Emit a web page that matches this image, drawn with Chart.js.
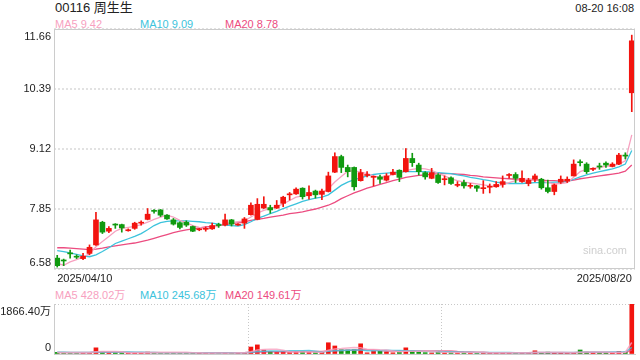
<!DOCTYPE html>
<html>
<head>
<meta charset="utf-8">
<script src="https://cdn.jsdelivr.net/npm/chart.js@4"></script>
<style>
body { margin: 0; background: #fff; width: 640px; height: 360px; overflow: hidden; position: relative;
       font-family: 'Liberation Sans', Arial, 'Noto Sans CJK SC', sans-serif; }
.t { position: absolute; white-space: nowrap; line-height: 14px; height: 14px; }
canvas { position: absolute; left: 0; }
</style>
</head>
<body>
<div class="t" style="left:55px;top:1px;font-size:13px;color:#222">00116 周生生</div>
<div class="t" style="right:6px;top:1px;font-size:11px;color:#222">08-20 16:08</div>
<div class="t" id="lg5" style="left:55px;top:17px;font-size:11px;color:#f7a1c0"></div>
<div class="t" id="lg10" style="left:140px;top:17px;font-size:11px;color:#3cc3dc"></div>
<div class="t" id="lg20" style="left:225px;top:17px;font-size:11px;color:#ec4c80"></div>
<div class="t" id="vl5" style="left:55px;top:288px;font-size:11px;color:#f7a1c0"></div>
<div class="t" id="vl10" style="left:140px;top:288px;font-size:11px;color:#3cc3dc"></div>
<div class="t" id="vl20" style="left:225px;top:288px;font-size:11px;color:#ec4c80"></div>
<canvas id="kline" width="640" height="290" style="top:0"></canvas>
<canvas id="vol" width="640" height="70" style="top:290px"></canvas>
<div class="t" style="left:583px;top:243px;font-size:11px;color:#cfcfcf">sina.com</div>
<script>
const FONT = "'Liberation Sans', Arial, 'Noto Sans CJK SC', sans-serif";
const RED = '#f2140f';
const GREEN = '#109a10';

// trading days
const dates = [
  '2025/04/10','2025/04/11','2025/04/14','2025/04/15','2025/04/16','2025/04/17','2025/04/22','2025/04/23','2025/04/24','2025/04/25','2025/04/28','2025/04/29','2025/04/30',
  '2025/05/02','2025/05/06','2025/05/07','2025/05/08','2025/05/09','2025/05/12','2025/05/13','2025/05/14','2025/05/15','2025/05/16','2025/05/19','2025/05/20','2025/05/21','2025/05/22','2025/05/23','2025/05/26','2025/05/27','2025/05/28','2025/05/29','2025/05/30',
  '2025/06/02','2025/06/03','2025/06/04','2025/06/05','2025/06/06','2025/06/09','2025/06/10','2025/06/11','2025/06/12','2025/06/13','2025/06/16','2025/06/17','2025/06/18','2025/06/19','2025/06/20','2025/06/23','2025/06/24','2025/06/25','2025/06/26','2025/06/27','2025/06/30',
  '2025/07/02','2025/07/03','2025/07/04','2025/07/07','2025/07/08','2025/07/09','2025/07/10','2025/07/11','2025/07/14','2025/07/15','2025/07/16','2025/07/17','2025/07/18','2025/07/21','2025/07/22','2025/07/23','2025/07/24','2025/07/25','2025/07/28','2025/07/29','2025/07/30','2025/07/31',
  '2025/08/01','2025/08/04','2025/08/05','2025/08/06','2025/08/07','2025/08/08','2025/08/11','2025/08/12','2025/08/13','2025/08/14','2025/08/15','2025/08/18','2025/08/19','2025/08/20'
];

const openP = [6.81,6.77,6.92,6.85,6.80,6.91,7.09,7.57,7.38,7.53,7.52,7.39,7.44,7.55,7.63,7.82,7.83,7.72,7.62,7.56,7.57,7.48,7.41,7.42,
  7.43,7.51,7.51,7.62,7.51,7.55,7.73,7.63,7.87,7.88,7.87,7.97,8.15,8.17,8.29,8.13,8.23,8.16,8.22,8.63,8.96,
  8.73,8.73,8.45,8.56,8.52,8.53,8.46,8.58,8.67,8.64,8.92,8.78,8.62,8.50,8.57,8.47,8.51,8.35,8.41,8.33,8.34,8.28,8.31,
  8.32,8.37,8.56,8.58,8.43,8.39,8.48,8.48,8.30,8.22,8.42,8.44,8.55,8.85,8.80,8.69,8.76,8.82,8.75,8.80,8.99,10.31];
const closeP = [6.65,6.75,6.90,6.83,6.85,7.04,7.62,7.36,7.44,7.51,7.45,7.41,7.55,7.56,7.74,7.80,7.72,7.64,7.53,7.46,7.51,7.38,7.42,7.43,
  7.50,7.50,7.62,7.53,7.52,7.64,7.93,7.95,7.95,7.83,7.93,8.10,8.16,8.27,8.11,8.20,8.15,8.23,8.55,8.96,8.73,
  8.64,8.32,8.62,8.57,8.53,8.48,8.55,8.63,8.52,8.92,8.83,8.64,8.53,8.62,8.41,8.48,8.39,8.36,8.34,8.34,8.29,8.29,8.32,
  8.37,8.43,8.57,8.50,8.50,8.46,8.55,8.30,8.22,8.36,8.48,8.48,8.80,8.83,8.64,8.70,8.74,8.78,8.80,8.99,8.97,11.41];
const highP = [6.87,6.79,6.98,6.88,6.91,7.09,7.78,7.59,7.48,7.54,7.53,7.43,7.57,7.60,7.86,7.84,7.84,7.73,7.65,7.58,7.60,7.49,7.44,7.47,
  7.55,7.55,7.74,7.63,7.54,7.67,7.98,8.07,8.11,7.93,8.03,8.12,8.20,8.30,8.30,8.34,8.25,8.27,8.63,9.04,8.99,
  8.78,8.74,8.69,8.64,8.55,8.57,8.60,8.69,8.68,9.13,9.03,8.82,8.64,8.71,8.60,8.55,8.53,8.43,8.46,8.39,8.35,8.45,8.38,
  8.43,8.55,8.60,8.62,8.66,8.50,8.59,8.50,8.46,8.38,8.55,8.53,8.89,8.89,8.83,8.72,8.82,8.85,8.83,9.03,9.04,11.53];
const lowP = [6.62,6.65,6.81,6.80,6.78,6.88,7.08,7.33,7.35,7.44,7.36,7.38,7.42,7.51,7.62,7.76,7.69,7.63,7.51,7.43,7.48,7.37,7.39,7.38,
  7.42,7.46,7.49,7.49,7.50,7.44,7.72,7.62,7.86,7.76,7.86,7.90,8.04,8.16,8.06,8.06,8.08,8.05,8.21,8.62,8.62,
  8.53,8.25,8.44,8.53,8.34,8.39,8.44,8.57,8.43,8.63,8.75,8.57,8.48,8.49,8.39,8.36,8.37,8.32,8.29,8.29,8.22,8.18,8.19,
  8.31,8.31,8.50,8.41,8.41,8.34,8.43,8.27,8.19,8.15,8.39,8.41,8.55,8.76,8.60,8.66,8.69,8.73,8.74,8.79,8.91,9.91];

const ma5 = [6.70,6.66,6.73,6.78,6.83,6.90,7.05,7.16,7.27,7.38,7.44,7.46,7.48,7.52,7.57,7.63,7.68,7.72,7.68,7.61,7.56,7.50,7.46,7.43,
  7.46,7.49,7.54,7.56,7.58,7.60,7.68,7.76,7.82,7.86,7.90,7.96,8.03,8.10,8.13,8.16,8.18,8.19,8.28,8.42,8.54,
  8.65,8.66,8.63,8.60,8.55,8.52,8.53,8.58,8.61,8.66,8.69,8.71,8.70,8.67,8.60,8.55,8.49,8.45,8.42,8.40,8.38,8.36,8.34,
  8.33,8.36,8.41,8.45,8.47,8.48,8.49,8.45,8.41,8.38,8.39,8.41,8.52,8.64,8.69,8.71,8.73,8.75,8.77,8.80,8.87,9.42];
const ma10 = [6.97,6.95,6.92,6.89,6.86,6.84,6.88,6.95,7.03,7.12,7.17,7.22,7.27,7.33,7.41,7.50,7.56,7.59,7.60,7.60,7.60,7.59,7.58,7.56,
  7.55,7.53,7.51,7.50,7.49,7.52,7.58,7.65,7.70,7.75,7.80,7.86,7.91,7.96,8.01,8.05,8.08,8.10,8.15,8.25,8.35,
  8.42,8.47,8.51,8.55,8.58,8.60,8.61,8.62,8.63,8.64,8.64,8.64,8.64,8.63,8.62,8.61,8.60,8.57,8.55,8.52,8.50,8.47,8.45,
  8.42,8.40,8.39,8.39,8.39,8.40,8.41,8.41,8.41,8.42,8.42,8.43,8.48,8.53,8.57,8.61,8.64,8.67,8.70,8.74,8.80,9.09];
const ma20 = [7.03,7.03,7.02,7.01,7.00,6.99,7.00,7.02,7.05,7.07,7.09,7.11,7.13,7.16,7.19,7.23,7.27,7.31,7.35,7.38,7.41,7.43,7.45,7.47,
  7.48,7.50,7.52,7.54,7.56,7.58,7.61,7.63,7.65,7.68,7.70,7.72,7.75,7.77,7.79,7.82,7.85,7.89,7.93,7.99,8.07,
  8.13,8.19,8.24,8.29,8.33,8.37,8.41,8.45,8.48,8.52,8.54,8.56,8.57,8.59,8.60,8.60,8.60,8.59,8.58,8.56,8.55,8.53,8.52,
  8.51,8.50,8.49,8.48,8.48,8.47,8.46,8.46,8.45,8.45,8.44,8.44,8.46,8.49,8.51,8.53,8.55,8.57,8.59,8.61,8.65,8.78];

// volume, 万 shares
const volume = [60,30,50,40,45,60,230,70,40,45,40,35,55,40,70,35,45,40,50,45,
  40,50,35,30,40,30,60,45,30,50,260,340,150,90,60,80,50,70,90,60,
  55,70,420,300,160,150,160,380,45,120,100,80,45,60,230,110,80,50,40,90,
  50,60,45,60,50,55,40,50,45,60,40,45,50,45,120,60,70,50,45,40,
  60,150,70,40,55,45,50,100,70,1866.4];
const volMa5 = [55,50,48,45,45,45,84,89,89,97,85,46,43,43,48,47,49,46,48,43,
  44,45,44,40,39,37,39,41,43,45,89,147,166,178,180,144,86,70,70,70,
  65,69,139,189,201,220,238,234,179,171,155,145,114,81,103,105,105,106,102,74,
  62,58,59,61,54,54,52,51,48,50,49,48,48,48,62,64,69,69,69,53,
  53,69,73,72,75,72,52,58,64,428.02];
const volMa10 = [65,62,60,58,56,55,70,72,73,75,72,70,68,66,57,53,51,50,48,46,
  44,45,45,43,42,40,42,43,42,43,62,93,103,110,112,113,117,120,124,126,
  107,79,99,120,130,140,151,152,124,125,130,139,134,126,122,117,111,98,90,91,
  86,81,78,72,68,60,58,55,55,55,52,51,51,51,55,56,59,59,59,59,
  56,67,71,70,72,70,70,70,71,245.68];
const volMa20 = [55,55,54,54,53,53,62,63,62,62,61,60,60,59,60,59,59,58,58,58,
  57,50,50,50,50,49,50,50,49,49,59,74,79,81,83,86,86,88,91,91,
  92,93,112,124,130,136,142,158,158,161,126,113,108,102,111,112,113,112,111,112,
  112,111,92,80,78,66,62,49,46,46,44,43,43,42,49,49,49,49,49,49,
  50,55,56,55,56,55,55,58,59,149.61];

const priceTicks = [6.58, 7.85, 9.12, 10.39, 11.66];
const volTicks = [0, 1866.4];

const last = a => a[a.length - 1];
document.getElementById('lg5').textContent = 'MA5 ' + last(ma5).toFixed(2);
document.getElementById('lg10').textContent = 'MA10 ' + last(ma10).toFixed(2);
document.getElementById('lg20').textContent = 'MA20 ' + last(ma20).toFixed(2);
document.getElementById('vl5').textContent = 'MA5 ' + last(volMa5).toFixed(2) + '万';
document.getElementById('vl10').textContent = 'MA10 ' + last(volMa10).toFixed(2) + '万';
document.getElementById('vl20').textContent = 'MA20 ' + last(volMa20).toFixed(2) + '万';

const upDown = openP.map((o, i) => closeP[i] >= o ? RED : GREEN);
const wicks = lowP.map((l, i) => [l, highP[i]]);
const bodies = openP.map((o, i) => [Math.min(o, closeP[i]), Math.max(o, closeP[i])]);

Chart.defaults.font.family = FONT;
Chart.defaults.font.size = 11;
Chart.defaults.color = '#222';
Chart.defaults.animation = false;

// frame, y labels (top one hangs below its line, bottom one sits above), volume thirds grid
const yLabels = {
  id: 'yLabels',
  beforeDatasetsDraw(chart, args, opts) {
    if (!opts.thirds) return;
    const { ctx, chartArea: a } = chart;
    ctx.save();
    ctx.strokeStyle = '#c8c8c8';
    ctx.lineWidth = 1;
    ctx.setLineDash([1, 2]);
    [1, 2].forEach(k => {
      const x = Math.round(a.left + (a.right - a.left) * k / 3) + 0.5;
      ctx.beginPath();
      ctx.moveTo(x, a.top);
      ctx.lineTo(x, a.bottom);
      ctx.stroke();
    });
    ctx.restore();
  },
  afterDraw(chart, args, opts) {
    const { ctx, chartArea: a } = chart;
    const s = chart.scales.y;
    ctx.save();
    if (opts.box) {
      ctx.strokeStyle = '#cccccc';
      ctx.lineWidth = 1;
      ctx.strokeRect(a.left + 0.5, a.top + 0.5, a.right - a.left - 1, a.bottom - a.top - 1);
    }
    ctx.font = '11px ' + FONT;
    ctx.fillStyle = '#222';
    ctx.textAlign = 'right';
    const n = s.ticks.length;
    s.ticks.forEach((t, i) => {
      const y = s.getPixelForValue(t.value);
      let dy = 0;
      if (i === 0) { ctx.textBaseline = 'bottom'; dy = -1; }
      else if (i === n - 1) { ctx.textBaseline = 'top'; dy = 2; }
      else ctx.textBaseline = 'middle';
      ctx.fillText(opts.format(t.value), a.left - 3, y + dy);
    });
    ctx.restore();
  }
};

const lineDs = (data, color, w) => ({
  type: 'line', data: data, borderColor: color, borderWidth: w,
  pointRadius: 0, tension: 0, fill: false
});

new Chart(document.getElementById('kline'), {
  type: 'bar',
  data: {
    labels: dates,
    datasets: [
      { data: bodies, backgroundColor: upDown, barThickness: 5, minBarLength: 1, grouped: false },
      { data: wicks, backgroundColor: upDown, barThickness: 1, minBarLength: 1, grouped: false },
      lineDs(ma5, '#f7a1c0', 1.3),
      lineDs(ma10, '#3cc3dc', 1.3),
      lineDs(ma20, '#ec4c80', 1.3)
    ]
  },
  options: {
    responsive: false,
    layout: { padding: { top: 29, right: 5, bottom: 7, left: 0 } },
    plugins: {
      legend: { display: false },
      tooltip: { enabled: false },
      yLabels: { box: true, thirds: false, format: v => v.toFixed(2) }
    },
    scales: {
      x: {
        grid: { display: false, drawTicks: false },
        border: { display: false },
        ticks: {
          autoSkip: false, maxRotation: 0, align: 'inner', padding: 3,
          callback: (v, i) => (i === 0 || i === dates.length - 1) ? dates[i] : ''
        },
        afterFit: s => { s.height = 14; }
      },
      y: {
        min: 6.58, max: 11.66,
        afterBuildTicks: s => { s.ticks = priceTicks.map(v => ({ value: v })); },
        ticks: { display: false },
        grid: { color: '#e2e2e2', lineWidth: 2, drawTicks: false },
        border: { display: false, dash: [2, 2] },
        afterFit: s => { s.width = 54; }
      }
    }
  },
  plugins: [yLabels]
});

new Chart(document.getElementById('vol'), {
  type: 'bar',
  data: {
    labels: dates,
    datasets: [
      lineDs(volMa5, 'rgba(247,161,192,0.8)', 1.5),
      lineDs(volMa10, 'rgba(60,195,220,0.8)', 1.5),
      lineDs(volMa20, 'rgba(236,76,128,0.8)', 1.5),
      { data: volume, backgroundColor: upDown, barThickness: 4, minBarLength: 1 }
    ]
  },
  options: {
    responsive: false,
    layout: { padding: { top: 14, right: 5, bottom: 6, left: 0 } },
    plugins: {
      legend: { display: false },
      tooltip: { enabled: false },
      yLabels: { box: false, thirds: true, format: v => v === 0 ? '0' : v.toFixed(2) + '万' }
    },
    scales: {
      x: {
        grid: { display: false, drawTicks: false },
        ticks: { display: false },
        border: { display: true, color: '#cccccc' },
        afterFit: s => { s.height = 0; }
      },
      y: {
        min: 0, max: 1866.4,
        afterBuildTicks: s => { s.ticks = volTicks.map(v => ({ value: v })); },
        ticks: { display: false },
        grid: { color: c => c.tick && c.tick.value === 0 ? 'rgba(0,0,0,0)' : '#c8c8c8', lineWidth: 1, drawTicks: false },
        border: { display: true, color: '#cccccc', dash: [1, 2] },
        afterFit: s => { s.width = 54; }
      }
    }
  },
  plugins: [yLabels]
});
</script>
</body>
</html>
